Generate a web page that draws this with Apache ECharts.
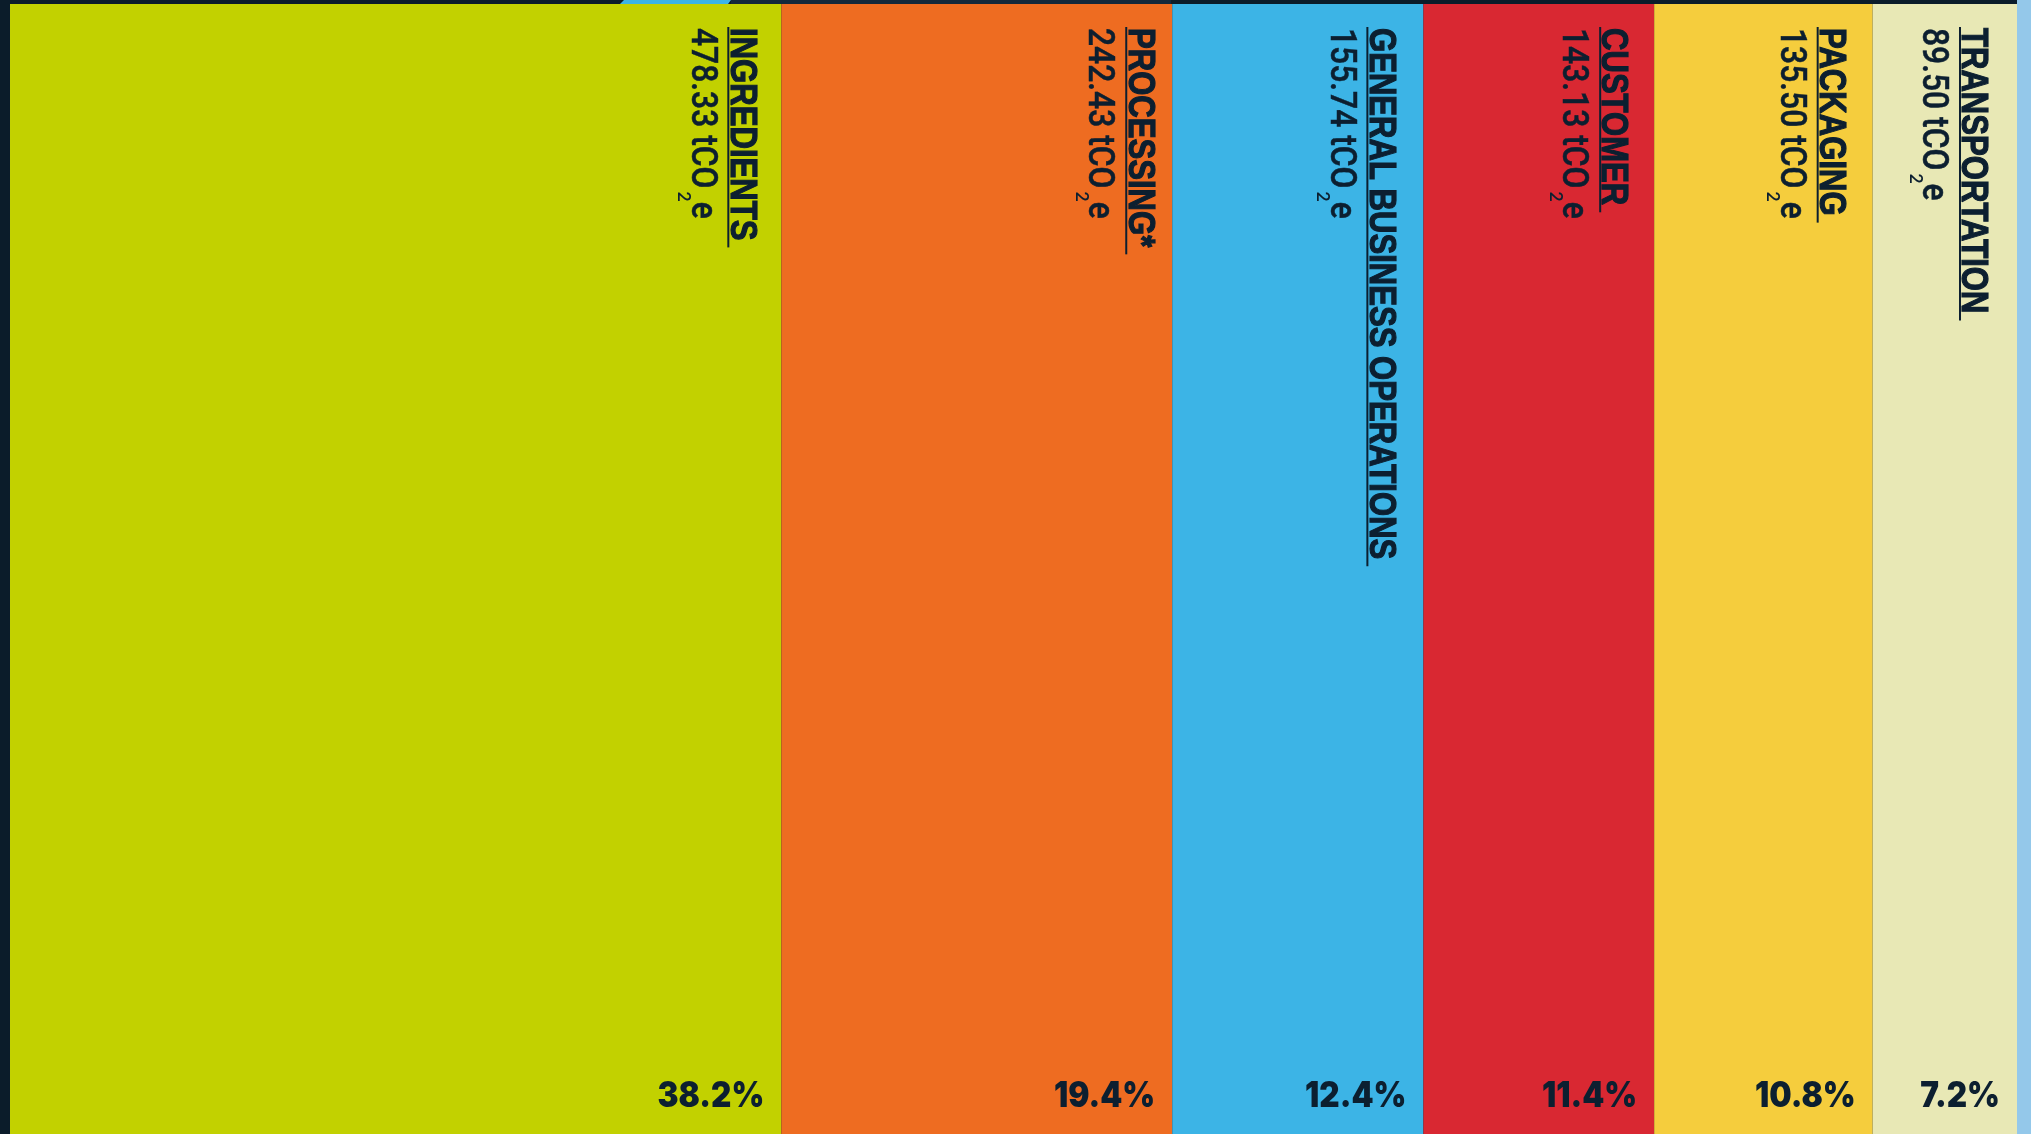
<!DOCTYPE html>
<html>
<head>
<meta charset="utf-8">
<title>Carbon footprint by category</title>
<script src="https://cdn.jsdelivr.net/npm/echarts@6/dist/echarts.min.js"></script>
<style>
  html, body { margin: 0; padding: 0; background: #0b1c2a; overflow: hidden; }
  #chart { width: 2031px; height: 1134px; }
</style>
</head>
<body>
<div id="chart"></div>
<script>
// Emission categories, tonnes of CO2 equivalent, and their printed shares
const categories = ['INGREDIENTS', 'PROCESSING*', 'GENERAL BUSINESS OPERATIONS', 'CUSTOMER', 'PACKAGING', 'TRANSPORTATION'];
const emissions = [478.33, 242.43, 155.74, 143.13, 135.50, 89.50];
const shareLabels = ['38.2%', '19.4%', '12.4%', '11.4%', '10.8%', '7.2%'];

// Palette
const colors = ['#c2d100', '#ee6c21', '#3cb4e6', '#d92832', '#f5cd3d', '#e8e8b5'];
const ink = '#0c1f30';

// Horizontal nudge of each column's vertical label block, in px
const labelShift = [1, 8, -2, 0, -1, -3];

// Condensed look: regular faces squeezed along the reading direction
const NAME_FONT = 'bold 37px "Liberation Sans", Arial, sans-serif';
const NAME_SQUEEZE = 0.84;
const VALUE_FONT = '500 37px Roboto, "Liberation Sans", sans-serif';
const VALUE_SQUEEZE = 0.86;
const SUB_FONT = '500 18px Roboto, "Liberation Sans", sans-serif';
const SHARE_FONT = '900 35px Inter, "DejaVu Sans", sans-serif';
const SHARE_SQUEEZE = 0.9;

const measureCtx = document.createElement('canvas').getContext('2d');
function textWidth(text, font) {
  measureCtx.font = font;
  return measureCtx.measureText(text).width;
}

// Each column spans [start, end] along a value axis equal to the total
const total = emissions.reduce((a, b) => a + b, 0);
let acc = 0;
const spans = emissions.map((v, i) => {
  const start = acc;
  acc += v;
  return [start, acc, v, i];
});

function renderColumn(params, api) {
  const i = api.value(3);
  const tl = api.coord([api.value(0), 1]);
  const br = api.coord([api.value(1), 0]);
  const right = br[0];
  const r = right + labelShift[i];
  const top = tl[1];
  const startY = top + 24;

  const valueText = emissions[i].toFixed(2) + ' tCO';
  const nameW = textWidth(categories[i], NAME_FONT) * NAME_SQUEEZE;
  const valW = textWidth(valueText, VALUE_FONT) * VALUE_SQUEEZE;
  const subW = textWidth('2', SUB_FONT);
  const rot = -Math.PI / 2;

  return {
    type: 'group',
    children: [
      {
        type: 'rect',
        shape: { x: tl[0], y: top, width: br[0] - tl[0], height: br[1] - top },
        style: { fill: colors[i] }
      },
      {
        type: 'text', x: r - 41.5, y: startY, rotation: rot, scaleX: NAME_SQUEEZE,
        style: {
          text: categories[i], font: NAME_FONT, fill: ink,
          stroke: ink, lineWidth: 1.2,
          align: 'left', verticalAlign: 'middle'
        }
      },
      {
        type: 'line',
        shape: { x1: r - 54, y1: startY - 1, x2: r - 54, y2: startY + nameW + 7 },
        style: { stroke: ink, lineWidth: 2 }
      },
      {
        type: 'text', x: r - 81.5, y: startY, rotation: rot, scaleX: VALUE_SQUEEZE,
        style: {
          text: valueText, font: VALUE_FONT, fill: ink,
          stroke: ink, lineWidth: 0.5,
          align: 'left', verticalAlign: 'middle'
        }
      },
      {
        type: 'text', x: r - 100, y: startY + valW + 3, rotation: rot,
        style: { text: '2', font: SUB_FONT, fill: ink, align: 'left', verticalAlign: 'middle' }
      },
      {
        type: 'text', x: r - 81.5, y: startY + valW + subW + 3, rotation: rot, scaleX: VALUE_SQUEEZE,
        style: {
          text: 'e', font: VALUE_FONT, fill: ink,
          stroke: ink, lineWidth: 0.5,
          align: 'left', verticalAlign: 'middle'
        }
      },
      {
        type: 'text', x: right - 17, y: 1096, scaleX: SHARE_SQUEEZE,
        style: { text: shareLabels[i], font: SHARE_FONT, fill: ink, align: 'right', verticalAlign: 'middle' }
      }
    ]
  };
}

const chart = echarts.init(document.getElementById('chart'), null, { renderer: 'canvas' });
chart.setOption({
  backgroundColor: '#0b1c2a',
  animation: false,
  grid: { left: 10, right: 14, top: 4, bottom: 0 },
  xAxis: { type: 'value', min: 0, max: total, show: false },
  yAxis: { type: 'value', min: 0, max: 1, show: false },
  graphic: [
    { type: 'rect', left: 2017, top: 0, shape: { width: 14, height: 1134 }, style: { fill: '#94c8ea' }, z: -1 },
    { type: 'polygon', shape: { points: [[620, 4], [624, 0], [731, 0], [728, 4]] }, style: { fill: '#3cb4e6' } },
    { type: 'rect', left: 731, top: 0, shape: { width: 440, height: 4 }, style: { fill: '#13283b' } }
  ],
  series: [{
    type: 'custom',
    renderItem: renderColumn,
    encode: { x: [0, 1], y: 2 },
    data: spans,
    silent: true,
    clip: false
  }]
});
</script>
</body>
</html>
